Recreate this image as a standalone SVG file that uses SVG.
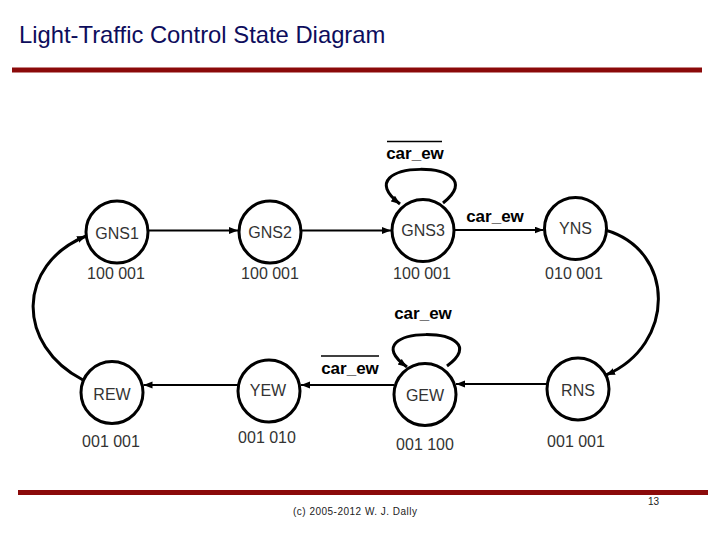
<svg xmlns="http://www.w3.org/2000/svg" width="720" height="540" viewBox="0 0 720 540">
<style>
.st{fill:#fff;stroke:#000;stroke-width:3}
.nm{font-family:"Liberation Sans",Arial,sans-serif;font-size:16px;fill:#333;text-anchor:middle}
.lb{font-family:"Liberation Sans",Arial,sans-serif;font-size:17px;font-weight:bold;fill:#000;text-anchor:middle}
.ov{stroke:#000;stroke-width:1.4}
.ed{fill:none;stroke:#000;stroke-width:2;marker-end:url(#ah)}
.arc{fill:none;stroke:#000;stroke-width:3;marker-end:url(#ah)}
.rule{stroke:#8b0a0a;stroke-width:5}
</style>
<defs>
<marker id="ah" markerUnits="userSpaceOnUse" markerWidth="10" markerHeight="8" refX="9" refY="3.5" orient="auto">
<path d="M0,0 L9,3.5 L0,7 z" fill="#000"/>
</marker>
</defs>
<rect width="720" height="540" fill="#fff"/>
<text x="19" y="43" font-family="'Liberation Sans',Arial,sans-serif" font-size="23.8" fill="#0d0d5c">Light-Traffic Control State Diagram</text>
<line class="rule" x1="12" y1="70" x2="702" y2="70"/>
<line class="rule" x1="18" y1="492.5" x2="708" y2="492.5"/>
<text x="293" y="515" font-family="'Liberation Sans',Arial,sans-serif" font-size="10" fill="#222" textLength="124" lengthAdjust="spacing">(c) 2005-2012 W. J. Dally</text>
<text x="648" y="505" font-family="'Liberation Sans',Arial,sans-serif" font-size="10" fill="#222">13</text>

<g id="connectors">
<line class="ed" x1="148" y1="230.5" x2="238" y2="230.5"/>
<line class="ed" x1="301" y1="230.5" x2="391" y2="230.5"/>
<line class="ed" x1="455" y1="230" x2="543.5" y2="230"/>
<path class="arc" d="M443,203 C500,158 340,158 400,204"/>
<path class="arc" d="M605,230 C676,250 676,345 606,375"/>
<line class="ed" x1="547" y1="384" x2="456" y2="384"/>
<path class="arc" d="M447,366 C504,324 347,324 407,367"/>
<line class="ed" x1="394" y1="385" x2="301" y2="385"/>
<line class="ed" x1="238" y1="385" x2="143.5" y2="385"/>
<path class="arc" d="M83,380 C16,345 16,265 86,236"/>
<g id="lbl-gns3-loop"><line class="ov" x1="387" y1="141.5" x2="442" y2="141.5"/><text class="lb" x="415" y="159">car_ew</text></g>
<g id="lbl-gns3-yns"><text class="lb" x="495" y="222">car_ew</text></g>
<g id="lbl-gew-loop"><text class="lb" x="423" y="319">car_ew</text></g>
<g id="lbl-gew-yew"><line class="ov" x1="321" y1="356" x2="379" y2="356"/><text class="lb" x="350" y="374">car_ew</text></g>
</g>

<g id="GNS1"><circle class="st" cx="117" cy="232" r="31"/><text class="nm" x="117" y="238.5">GNS1</text><text class="nm" x="116" y="278.5">100 001</text></g>
<g id="GNS2"><circle class="st" cx="270" cy="232" r="31"/><text class="nm" x="270" y="238">GNS2</text><text class="nm" x="270" y="278.5">100 001</text></g>
<g id="GNS3"><circle class="st" cx="423" cy="230.5" r="31"/><text class="nm" x="423" y="236">GNS3</text><text class="nm" x="422" y="278.5">100 001</text></g>
<g id="YNS"><circle class="st" cx="575.5" cy="228.5" r="31"/><text class="nm" x="575.5" y="234">YNS</text><text class="nm" x="574" y="278.5">010 001</text></g>
<g id="REW"><circle class="st" cx="112" cy="392.5" r="31"/><text class="nm" x="112" y="399.5">REW</text><text class="nm" x="111" y="447">001 001</text></g>
<g id="YEW"><circle class="st" cx="269" cy="391" r="31"/><text class="nm" x="268" y="396">YEW</text><text class="nm" x="267" y="443">001 010</text></g>
<g id="GEW"><circle class="st" cx="425" cy="394.5" r="31"/><text class="nm" x="425" y="400.5">GEW</text><text class="nm" x="425" y="450">001 100</text></g>
<g id="RNS"><circle class="st" cx="578" cy="389" r="31"/><text class="nm" x="578" y="395.5">RNS</text><text class="nm" x="576" y="447">001 001</text></g>
</svg>
